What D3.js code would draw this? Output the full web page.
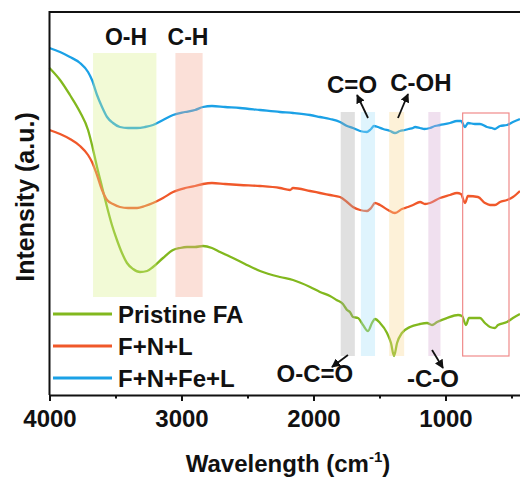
<!DOCTYPE html>
<html>
<head>
<meta charset="utf-8">
<script src="https://cdn.jsdelivr.net/npm/d3@7"></script>
<style>
  body { margin: 0; background: #fff; }
  text { font-family: "Liberation Sans", Arial, sans-serif; font-weight: bold; fill: #111; }
</style>
</head>
<body>
<svg id="chart" width="520" height="480"></svg>
<script>
// wavenumber (cm-1)
var pristineWn = [4000,3920,3845,3769,3708,3678,3640,3602,3564,3527,3489,3451,3413,3367,3314,3261,3216,3140,3064,3011,2958,2898,2837,2769,2708,2610,2519,2405,2254,2155,2026,1951,1875,1825,1777,1746,1724,1701,1663,1625,1587,1557,1534,1496,1443,1413,1390,1367,1330,1269,1193,1140,1102,1064,989,905,875,845,822,739,701,663,625,602,534,489,436]
var pristine   = [326,314,299,282,264,249,227,207,187,169,154,141,131,125,122,123,127,136,144,146,147,147,148,146,142,136,130,123,117,114,107,102,98,94,90,84,82,77,76,69,63,71,75,71,61,51,38,51,61,67,70,71,69,72,76,79,78,69,76,76,71,67,66,69,72,76,80]

var fnlWn = [4000,3920,3845,3769,3708,3678,3640,3602,3564,3519,3466,3405,3337,3277,3216,3140,3064,2973,2898,2837,2769,2670,2557,2405,2254,2178,2155,2026,1951,1875,1799,1746,1701,1648,1595,1564,1534,1496,1435,1383,1330,1284,1246,1193,1155,1117,1042,966,913,883,852,830,754,701,663,625,587,534,489,436]
var fnl   = [264,260,255,248,239,232,219,204,194,190,187,186,186,188,191,196,202,206,208,210,211,210,209,208,206,204,206,203,201,199,197,192,187,184,183,186,191,189,184,181,185,187,189,192,190,191,196,199,201,200,191,198,197,191,189,189,192,194,197,203]

var fnfelWn = [4000,3920,3845,3769,3708,3678,3640,3602,3564,3519,3466,3405,3337,3277,3216,3140,3064,2973,2898,2837,2769,2670,2557,2405,2254,2155,2026,1951,1875,1799,1746,1701,1648,1595,1564,1542,1511,1473,1420,1383,1345,1307,1280,1246,1230,1193,1160,1117,1080,1042,966,913,883,852,830,777,739,686,648,625,587,534,489,436]
var fnfel   = [346,342,337,331,322,314,299,287,277,271,267,266,266,267,269,274,279,282,284,287,288,287,286,284,282,281,279,277,275,272,268,266,263,262,265,268,267,265,263,261,263,264,265,266,267,266,265,266,268,269,271,273,273,267,271,270,270,267,266,265,268,269,272,275]

var seriesNames = ["Pristine FA", "F+N+L", "F+N+Fe+L"]
var seriesColors = ["#82b81e", "#f0582a", "#1ba1e6"]

// shaded bands [from, to] in cm-1 and their vertical extent in a.u.
var bandFrom = [3670, 3046, 1794, 1641, 1427, 1130]
var bandTo   = [3190, 2840, 1687, 1534, 1313, 1038]
var bandLow  = [97, 97, 38, 38, 38, 38]
var bandHigh = [341, 341, 282, 282, 282, 282]
var bandColors = ["#daf18a", "#f4a690", "#a6a6a6", "#a4e0f9", "#f9d790", "#d4a6d1"]

var boxFrom = 870, boxTo = 519, boxLow = 38, boxHigh = 281

// group labels: text, position (cm-1, a.u.), arrow from / to
var labelText = ["O-H", "C-H", "C=O", "C-OH", "O-C=O", "-C-O"]
var labelWn   = [3420, 2951, 1708, 1186, 1989, 1095]
var labelY    = [349, 349, 301, 303, 12, 7]
var arrowFrom = [null, null, [1587, 276], [1360, 276], [1739, 39], [1102, 44]]
var arrowTo   = [null, null, [1670, 299], [1284, 300], [1860, 27], [1019, 26]]

var majorTicks = [4000, 3000, 2000, 1000]
var minorTicks = [3500, 2500, 1500, 500]

var svg = d3.select("#chart")

var x = d3.scaleLinear().domain([4000, 400]).range([49.5, 524.7])
var y = d3.scaleLinear().domain([0, 382]).range([394, 12])

svg.append("defs").append("marker")
    .attr("id", "head")
    .attr("viewBox", "0 0 10 10")
    .attr("refX", 9).attr("refY", 5)
    .attr("markerWidth", 9).attr("markerHeight", 9)
    .attr("markerUnits", "userSpaceOnUse")
    .attr("orient", "auto")
  .append("path")
    .attr("d", "M0,0 L10,5 L0,10 z")
    .attr("fill", "#111")

// curves
var line = d3.line()
    .x(function(d){ return x(d[0]) })
    .y(function(d){ return y(d[1]) })
    .curve(d3.curveMonotoneX)

var allWn = [pristineWn, fnlWn, fnfelWn]
var allVals = [pristine, fnl, fnfel]

allVals.forEach(function(vals, i){
    var pts = vals.map(function(v, j){ return [allWn[i][j], v] })
    svg.append("path")
        .datum(pts)
        .attr("d", line)
        .attr("fill", "none")
        .attr("stroke", seriesColors[i])
        .attr("stroke-width", 2.3)
        .attr("stroke-linejoin", "round")
})

// bands on top, translucent so the lines get tinted
svg.selectAll("rect.band")
    .data(bandFrom)
    .enter().append("rect")
    .attr("class", "band")
    .attr("x", function(d){ return x(d) })
    .attr("width", function(d, i){ return x(bandTo[i]) - x(d) })
    .attr("y", function(d, i){ return y(bandHigh[i]) })
    .attr("height", function(d, i){ return y(bandLow[i]) - y(bandHigh[i]) })
    .attr("fill", function(d, i){ return bandColors[i] })
    .attr("fill-opacity", 0.35)

svg.append("rect")
    .attr("x", x(boxFrom))
    .attr("width", x(boxTo) - x(boxFrom))
    .attr("y", y(boxHigh))
    .attr("height", y(boxLow) - y(boxHigh))
    .attr("fill", "none")
    .attr("stroke", "#f08a8a")
    .attr("stroke-width", 1.2)

// labels and arrows
labelText.forEach(function(t, i){
    svg.append("text")
        .attr("x", x(labelWn[i]))
        .attr("y", y(labelY[i]))
        .attr("text-anchor", "middle")
        .style("font-size", i < 2 ? "23px" : "24px")
        .text(t)
    if (arrowFrom[i]) {
        svg.append("line")
            .attr("x1", x(arrowFrom[i][0])).attr("y1", y(arrowFrom[i][1]))
            .attr("x2", x(arrowTo[i][0])).attr("y2", y(arrowTo[i][1]))
            .attr("stroke", "#111")
            .attr("stroke-width", 1.8)
            .attr("marker-end", "url(#head)")
    }
})

// frame
svg.append("line")
    .attr("x1", 49.5).attr("x2", 520).attr("y1", 12).attr("y2", 12)
    .attr("stroke", "#111").attr("stroke-width", 2)
svg.append("line")
    .attr("x1", 49.5).attr("x2", 49.5).attr("y1", 11).attr("y2", 395)
    .attr("stroke", "#111").attr("stroke-width", 2)

// x axis
var xAxis = svg.append("g")
    .attr("transform", "translate(0,395)")
    .call(d3.axisBottom(x).tickValues(majorTicks).tickSize(6).tickPadding(9).tickFormat(d3.format("d")))
xAxis.select(".domain").attr("stroke", "#111").attr("stroke-width", 2)
xAxis.selectAll(".tick line").attr("stroke", "#111").attr("stroke-width", 2)
xAxis.selectAll(".tick text")
    .attr("fill", "#111")
    .style("font-family", "'Liberation Sans', Arial, sans-serif")
    .style("font-weight", "bold")
    .style("font-size", "24px")

svg.append("g")
    .attr("transform", "translate(0,395)")
    .call(d3.axisBottom(x).tickValues(minorTicks).tickSize(3.5).tickFormat(""))
    .call(function(g){
        g.select(".domain").remove()
        g.selectAll(".tick line").attr("stroke", "#111").attr("stroke-width", 2)
    })

// axis titles
var xt = svg.append("text")
    .attr("x", 288).attr("y", 472)
    .attr("text-anchor", "middle")
    .style("font-size", "24px")
xt.append("tspan").text("Wavelength (cm")
xt.append("tspan").attr("dy", -10).style("font-size", "15px").text("-1")
xt.append("tspan").attr("dy", 10).text(")")

svg.append("text")
    .attr("transform", "translate(33.5,197) rotate(-90)")
    .attr("text-anchor", "middle")
    .style("font-size", "25px")
    .text("Intensity (a.u.)")

// legend
var legY = [314, 346, 378]
seriesNames.forEach(function(n, i){
    svg.append("line")
        .attr("x1", 53).attr("x2", 112)
        .attr("y1", legY[i]).attr("y2", legY[i])
        .attr("stroke", seriesColors[i])
        .attr("stroke-width", 3)
    svg.append("text")
        .attr("x", 118).attr("y", legY[i] + 9)
        .style("font-size", "24px")
        .text(n)
})
</script>
</body>
</html>
